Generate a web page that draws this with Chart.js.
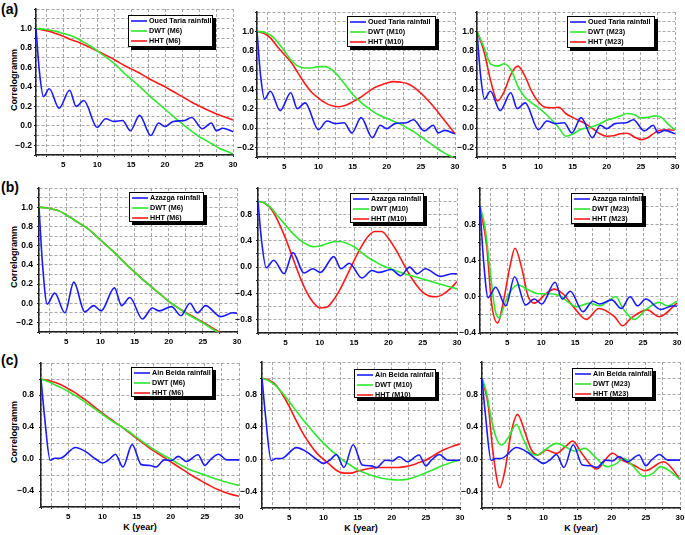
<!DOCTYPE html>
<html><head><meta charset="utf-8">
<script src="https://cdn.jsdelivr.net/npm/chart.js@4/dist/chart.umd.min.js"></script>
<style>
html,body{margin:0;padding:0;background:#fff;}
body{width:685px;height:535px;position:relative;overflow:hidden;font-family:"Liberation Sans",Arial,sans-serif;}
canvas{position:absolute;}
.lbl{position:absolute;font-weight:bold;color:#000;white-space:nowrap;}
.rot{transform:translate(-50%,-50%) rotate(-90deg);}
.ctr{transform:translate(-50%,-50%);}
</style></head><body>
<div class="lbl" style="left:1px;top:2px;font-size:14px;line-height:14px">(a)</div>
<div class="lbl" style="left:1px;top:180px;font-size:14px;line-height:14px">(b)</div>
<div class="lbl" style="left:1px;top:353px;font-size:14px;line-height:14px">(c)</div>
<div class="lbl rot" style="left:14px;top:80px;font-size:9px">Correlogramm</div>
<div class="lbl rot" style="left:14px;top:257px;font-size:9px">Correlogramm</div>
<div class="lbl rot" style="left:14px;top:432px;font-size:9px">Correlogramm</div>
<div class="lbl ctr" style="left:140px;top:527px;font-size:9px">K (year)</div>
<div class="lbl ctr" style="left:361px;top:528px;font-size:9px">K (year)</div>
<div class="lbl ctr" style="left:581px;top:528px;font-size:9px">K (year)</div>
<script>
// ---------------- DATA ----------------
const K = [1,2,3,4,5,6,7,8,9,10,11,12,13,14,15,16,17,18,19,20,21,22,23,24,25,26,27,28,29,30];
const xTickLabels = [5,10,15,20,25,30];

// Observed rainfall correlograms (read at peaks / troughs)
const tariaK = [1,1.5,2.1,2.95,4.4,5.95,6.9,8.05,10,11.25,12.45,13.75,14.9,16.25,17.9,19.05,20,21.2,22.9,23.9,25.5,26.8,27.55,28.5,30];
const tariaR = [1.0,0.56,0.30,0.38,0.18,0.365,0.20,0.26,-0.017,0.072,0.045,0.055,-0.05,0.107,-0.10,0.028,-0.007,0.045,0.055,0.086,-0.03,0.028,-0.05,-0.025,-0.06];

const azazgaK = [1,1.5,2.2,3.3,4.8,6.1,7.7,9.0,10.1,12.05,13.1,14.3,16.15,17.6,18.6,20.4,21.8,23.1,24.2,25.4,27.6,29.4,30];
const azazgaR = [1.0,0.42,-0.01,0.105,-0.10,0.22,-0.09,-0.025,-0.08,0.16,-0.025,0.06,-0.165,-0.05,-0.08,-0.035,-0.13,0.0,-0.10,-0.025,-0.14,-0.1,-0.105];

const beidaK = [1,1.5,2.35,3.0,3.8,6.05,7.6,9.0,10.0,11.0,11.9,13.0,14.35,15.7,17.0,17.8,19.1,20.1,21.1,22.3,24.0,25.0,25.8,27.0,28.2,30];
const beidaR = [1.0,0.55,-0.015,0.01,0.01,0.145,0.09,0.0,-0.05,-0.005,0.06,-0.1,0.18,-0.07,-0.08,-0.1,-0.01,-0.02,0.033,-0.03,0.053,-0.08,-0.01,0.06,-0.01,-0.01];

// (a) Oued Taria
const dwtM6a  = [1.0,0.995,0.985,0.97,0.95,0.93,0.9,0.86,0.82,0.77,0.72,0.67,0.61,0.54,0.48,0.42,0.355,0.29,0.23,0.17,0.11,0.05,-0.005,-0.06,-0.11,-0.15,-0.19,-0.23,-0.26,-0.29];
const hhtM6a  = [1.0,0.985,0.97,0.945,0.92,0.89,0.865,0.835,0.805,0.77,0.735,0.7,0.66,0.62,0.585,0.55,0.51,0.47,0.435,0.4,0.36,0.32,0.28,0.24,0.205,0.17,0.14,0.11,0.085,0.06];
const dwtM10a = [1.0,0.99,0.96,0.89,0.8,0.7,0.64,0.62,0.62,0.635,0.635,0.6,0.53,0.44,0.35,0.28,0.22,0.17,0.13,0.1,0.07,0.04,0.0,-0.04,-0.09,-0.14,-0.19,-0.24,-0.28,-0.31];
const hhtM10a = [1.0,0.98,0.93,0.84,0.76,0.68,0.57,0.46,0.37,0.31,0.26,0.23,0.22,0.235,0.27,0.31,0.36,0.41,0.44,0.465,0.48,0.475,0.46,0.42,0.36,0.29,0.21,0.12,0.03,-0.06];
const dwtM23a = [1.0,0.84,0.66,0.64,0.665,0.6,0.43,0.32,0.26,0.21,0.15,0.08,0.0,-0.085,-0.065,-0.02,0.0,0.015,0.045,0.08,0.1,0.125,0.15,0.14,0.105,0.11,0.125,0.11,0.04,-0.02];
const hhtM23a = [1.0,0.8,0.49,0.28,0.38,0.56,0.64,0.54,0.38,0.27,0.215,0.21,0.215,0.15,0.11,0.075,0.04,-0.01,-0.06,-0.085,-0.08,-0.06,-0.055,-0.09,-0.12,-0.1,-0.05,-0.02,-0.02,-0.02];

// (b) Azazga
const dwtM6b  = [1.0,0.995,0.98,0.96,0.92,0.875,0.83,0.785,0.725,0.66,0.595,0.53,0.46,0.39,0.325,0.26,0.2,0.14,0.08,0.02,-0.03,-0.08,-0.125,-0.165,-0.205,-0.25,-0.295,-0.34,-0.38,-0.42];
const hhtM6b  = [1.0,0.995,0.98,0.96,0.92,0.875,0.83,0.785,0.725,0.66,0.595,0.53,0.46,0.39,0.325,0.26,0.2,0.14,0.08,0.02,-0.03,-0.075,-0.118,-0.158,-0.197,-0.24,-0.283,-0.325,-0.365,-0.405];
const dwtM10b = [1.0,0.97,0.89,0.76,0.64,0.52,0.42,0.35,0.31,0.32,0.355,0.385,0.39,0.36,0.31,0.23,0.15,0.09,0.03,-0.01,-0.05,-0.09,-0.12,-0.15,-0.18,-0.21,-0.24,-0.27,-0.3,-0.33];
const hhtM10b = [1.0,0.97,0.87,0.68,0.44,0.16,-0.12,-0.36,-0.53,-0.62,-0.61,-0.5,-0.33,-0.12,0.1,0.3,0.46,0.54,0.54,0.44,0.28,0.09,-0.1,-0.26,-0.38,-0.44,-0.45,-0.41,-0.33,-0.22];
const dwtM23bK = [1,1.73,2.47,3.2,3.84,4.67,5.65,6.6,8.1,9.56,11.27,12.7,14.2,15.2,17.1,18.6,21.0,22.0,23.7,25.45,27.4,28.6,30];
const dwtM23b  = [1.0,0.77,0.3,-0.14,-0.235,-0.07,0.077,0.13,0.077,0.033,0.033,0.011,-0.07,-0.11,-0.07,-0.1,0.0,-0.125,-0.25,-0.14,-0.062,-0.1,-0.05];
const hhtM23bK = [1,2.0,2.7,3.6,4.4,5.4,6.15,7.1,8.1,9.0,10.8,11.9,13.2,14.7,16.65,18.5,20.8,22.0,23.25,25.6,27.4,30];
const hhtM23b  = [1.0,0.55,-0.07,-0.29,-0.07,0.33,0.536,0.33,0.0,-0.07,0.04,0.084,0.033,-0.106,-0.25,-0.13,-0.22,-0.32,-0.235,-0.145,-0.22,-0.07];

// (c) Ain Beida
const dwtM6c  = [1.0,0.97,0.93,0.89,0.845,0.795,0.74,0.68,0.62,0.56,0.5,0.445,0.395,0.335,0.27,0.21,0.15,0.095,0.045,0.0,-0.055,-0.1,-0.14,-0.17,-0.2,-0.23,-0.26,-0.285,-0.31,-0.33];
const hhtM6c  = [1.0,0.985,0.96,0.925,0.88,0.83,0.77,0.71,0.64,0.575,0.51,0.45,0.39,0.325,0.26,0.195,0.13,0.075,0.02,-0.035,-0.09,-0.145,-0.2,-0.25,-0.3,-0.345,-0.385,-0.42,-0.445,-0.465];
const dwtM10c = [1.0,0.97,0.91,0.82,0.71,0.6,0.49,0.39,0.29,0.2,0.12,0.05,-0.02,-0.075,-0.13,-0.165,-0.195,-0.22,-0.24,-0.25,-0.255,-0.25,-0.23,-0.2,-0.165,-0.13,-0.09,-0.06,-0.03,-0.01];
const hhtM10c = [1.0,0.98,0.92,0.8,0.65,0.48,0.32,0.19,0.08,0.0,-0.07,-0.14,-0.17,-0.17,-0.145,-0.125,-0.11,-0.1,-0.1,-0.1,-0.1,-0.09,-0.07,-0.04,-0.01,0.04,0.09,0.13,0.165,0.19];
const dwtM23cK = [1,1.64,2.37,3.1,3.84,4.8,6.05,7.0,8.0,9.0,10.2,11.9,13.2,14.6,16.1,17.3,19.3,20.75,21.7,23.2,24.7,26.1,27.1,28.6,30];
const dwtM23c  = [1.0,0.83,0.5,0.26,0.176,0.26,0.43,0.26,0.094,0.053,0.115,0.197,0.156,0.1,0.135,0.053,-0.09,-0.05,0.012,-0.09,-0.21,-0.17,-0.09,-0.15,-0.25];
const hhtM23cK = [1,1.9,2.6,3.6,4.33,5.3,6.2,7.27,8.25,9.24,10.46,11.9,13.2,14.3,15.6,17.8,20.1,21.5,23.2,24.9,27.6,28.8,30];
const hhtM23c  = [1.0,0.67,0.094,-0.35,-0.15,0.34,0.554,0.34,0.115,0.053,0.115,0.074,0.156,0.226,0.074,-0.12,0.075,-0.008,-0.07,-0.14,-0.03,-0.11,-0.25];

// ---------------- LAYOUT / STYLE ----------------
const COLORS = ['#1a1aff', '#2ee82e', '#ff1a1a'];
const PL = 40, PT = 8, PR = 10, PB = 20;
const TICK = 2;
const FONT = '"Liberation Sans", Arial, sans-serif';

const panels = [
  {rect:[36,9,233,155],   y:[-0.3,1.2,0.1,0.2,-0.2,1.0], pad:4, legend:[128,15,213,47],
   names:['Oued Taria rainfall','DWT (M6)','HHT (M6)'],  series:[[tariaK,tariaR],[K,dwtM6a],[K,hhtM6a]]},
  {rect:[257,12,455,157], y:[-0.3,1.2,0.1,0.2,-0.2,1.0], pad:3, legend:[347,16,436,47],
   names:['Oued Taria rainfall','DWT (M10)','HHT (M10)'], series:[[tariaK,tariaR],[K,dwtM10a],[K,hhtM10a]]},
  {rect:[477,12,675,157], y:[-0.3,1.2,0.1,0.2,-0.2,1.0], pad:3, legend:[567,16,655,48],
   names:['Oued Taria rainfall','DWT (M23)','HHT (M23)'], series:[[tariaK,tariaR],[K,dwtM23a],[K,hhtM23a]]},
  {rect:[39,187,237,332], y:[-0.3,1.2,0.1,0.2,-0.2,1.0], pad:6, legend:[129,192,204,222],
   names:['Azazga rainfall','DWT (M6)','HHT (M6)'], series:[[azazgaK,azazgaR],[K,dwtM6b],[K,hhtM6b]]},
  {rect:[258,187,457,333], y:[-1.0,1.2,0.2,0.4,-0.8,0.8], pad:6, legend:[350,193,424,223],
   names:['Azazga rainfall','DWT (M10)','HHT (M10)'], series:[[azazgaK,azazgaR],[K,dwtM10b],[K,hhtM10b]]},
  {rect:[480,188,677,333], y:[-0.4,1.2,0.2,0.4,-0.4,0.8], pad:4, legend:[571,193,643,224],
   names:['Azazga rainfall','DWT (M23)','HHT (M23)'], series:[[azazgaK,azazgaR],[dwtM23bK,dwtM23b],[hhtM23bK,hhtM23b]]},
  {rect:[41,361,239,507], y:[-0.6,1.2,0.2,0.4,-0.4,0.8], pad:7, legend:[131,367,213,397],
   names:['Ain Beida rainfall','DWT (M6)','HHT (M6)'], series:[[beidaK,beidaR],[K,dwtM6c],[K,hhtM6c]]},
  {rect:[262,362,460,508], y:[-0.6,1.2,0.2,0.4,-0.4,0.8], pad:5, legend:[354,369,436,398],
   names:['Ain Beida rainfall','DWT (M10)','HHT (M10)'], series:[[beidaK,beidaR],[K,dwtM10c],[K,hhtM10c]]},
  {rect:[482,362,680,508], y:[-0.6,1.2,0.2,0.4,-0.4,0.8], pad:4, legend:[572,368,653,398],
   names:['Ain Beida rainfall','DWT (M23)','HHT (M23)'], series:[[beidaK,beidaR],[dwtM23cK,dwtM23c],[hhtM23cK,hhtM23c]]}
];

const legendBox = {
  id: 'legendBox',
  afterDraw(chart, args, opts) {
    if (!opts || !opts.rect) return;
    const ctx = chart.ctx;
    const [l, t, r, b] = opts.rect;
    const x0 = l - opts.origin[0], y0 = t - opts.origin[1];
    const w = r - l, h = b - t;
    ctx.save();
    ctx.fillStyle = '#000';
    ctx.fillRect(x0 + 3, y0 + 3, w, h);
    ctx.fillStyle = '#fff';
    ctx.fillRect(x0, y0, w, h);
    ctx.strokeStyle = '#000';
    ctx.lineWidth = 1;
    ctx.strokeRect(x0 + 0.5, y0 + 0.5, w - 1, h - 1);
    ctx.font = 'bold 7.2px ' + FONT;
    ctx.textBaseline = 'middle';
    ctx.textAlign = 'left';
    chart.data.datasets.forEach((ds, i) => {
      const yy = y0 + 6 + i * 10;
      ctx.strokeStyle = ds.borderColor;
      ctx.lineWidth = 1.6;
      ctx.beginPath(); ctx.moveTo(x0 + 3, yy); ctx.lineTo(x0 + 19, yy); ctx.stroke();
      ctx.fillStyle = '#000';
      ctx.fillText(ds.label, x0 + 21, yy + 0.5);
    });
    ctx.restore();
  }
};

function fmt(v) {
  if (Math.abs(v) < 1e-9) return '0.0';
  return v.toFixed(1).replace('-', '\u2212');
}

panels.forEach((p) => {
  const [l, t, r, b] = p.rect;
  const cl = l - PL, ct = t - PT;
  const cw = (r - l) + PL + PR, ch = (b - t) + PT + PB;
  const cv = document.createElement('canvas');
  cv.width = cw; cv.height = ch;
  cv.style.left = cl + 'px'; cv.style.top = ct + 'px';
  cv.style.width = cw + 'px'; cv.style.height = ch + 'px';
  document.body.appendChild(cv);
  const [ymin, ymax, ystep, lstep, lmin, lmax] = p.y;
  const datasets = p.series.map((s, i) => ({
    label: p.names[i],
    data: s[0].map((x, j) => ({x: x, y: s[1][j]})),
    borderColor: COLORS[i],
    backgroundColor: COLORS[i],
    borderWidth: 1.6,
    pointRadius: 0,
    fill: false,
    cubicInterpolationMode: 'monotone'
  }));
  const gridOpts = {color: '#a6a6a6', lineWidth: 1, drawTicks: true, tickLength: TICK, tickColor: '#222', tickBorderDash: []};
  new Chart(cv, {
    type: 'line',
    data: {datasets},
    plugins: [legendBox],
    options: {
      responsive: false,
      animation: false,
      devicePixelRatio: 1,
      events: [],
      layout: {padding: {left: 0, top: PT, right: PR, bottom: 0}},
      plugins: {
        legend: {display: false},
        tooltip: {enabled: false},
        legendBox: {rect: p.legend, origin: [cl, ct]}
      },
      scales: {
        x: {
          type: 'linear', min: 1, max: 30,
          afterFit: (sc) => { sc.height = PB; },
          grid: gridOpts,
          border: {display: true, color: '#222', width: 1.5, dash: [3, 2]},
          ticks: {
            stepSize: 2.5, autoSkip: false, maxRotation: 0, minRotation: 0, padding: 3,
            color: '#000', font: {family: FONT, size: 8, weight: 'bold'},
            callback: (v) => xTickLabels.includes(v) ? String(v) : ''
          }
        },
        y: {
          type: 'linear', min: ymin, max: ymax,
          afterFit: (sc) => { sc.width = PL; },
          grid: gridOpts,
          border: {display: true, color: '#222', width: 1.5, dash: [3, 2]},
          ticks: {
            stepSize: ystep, autoSkip: false, padding: Math.max(0, p.pad - TICK),
            color: '#000', font: {family: FONT, size: 8.5, weight: 'bold'},
            callback: (v) => {
              const k = Math.round(v * 10) / 10;
              const q = k / lstep;
              if (Math.abs(q - Math.round(q)) < 1e-6 && k >= lmin - 1e-9 && k <= lmax + 1e-9) return fmt(k);
              return '';
            }
          }
        }
      }
    }
  });
});
</script>
</body></html>
